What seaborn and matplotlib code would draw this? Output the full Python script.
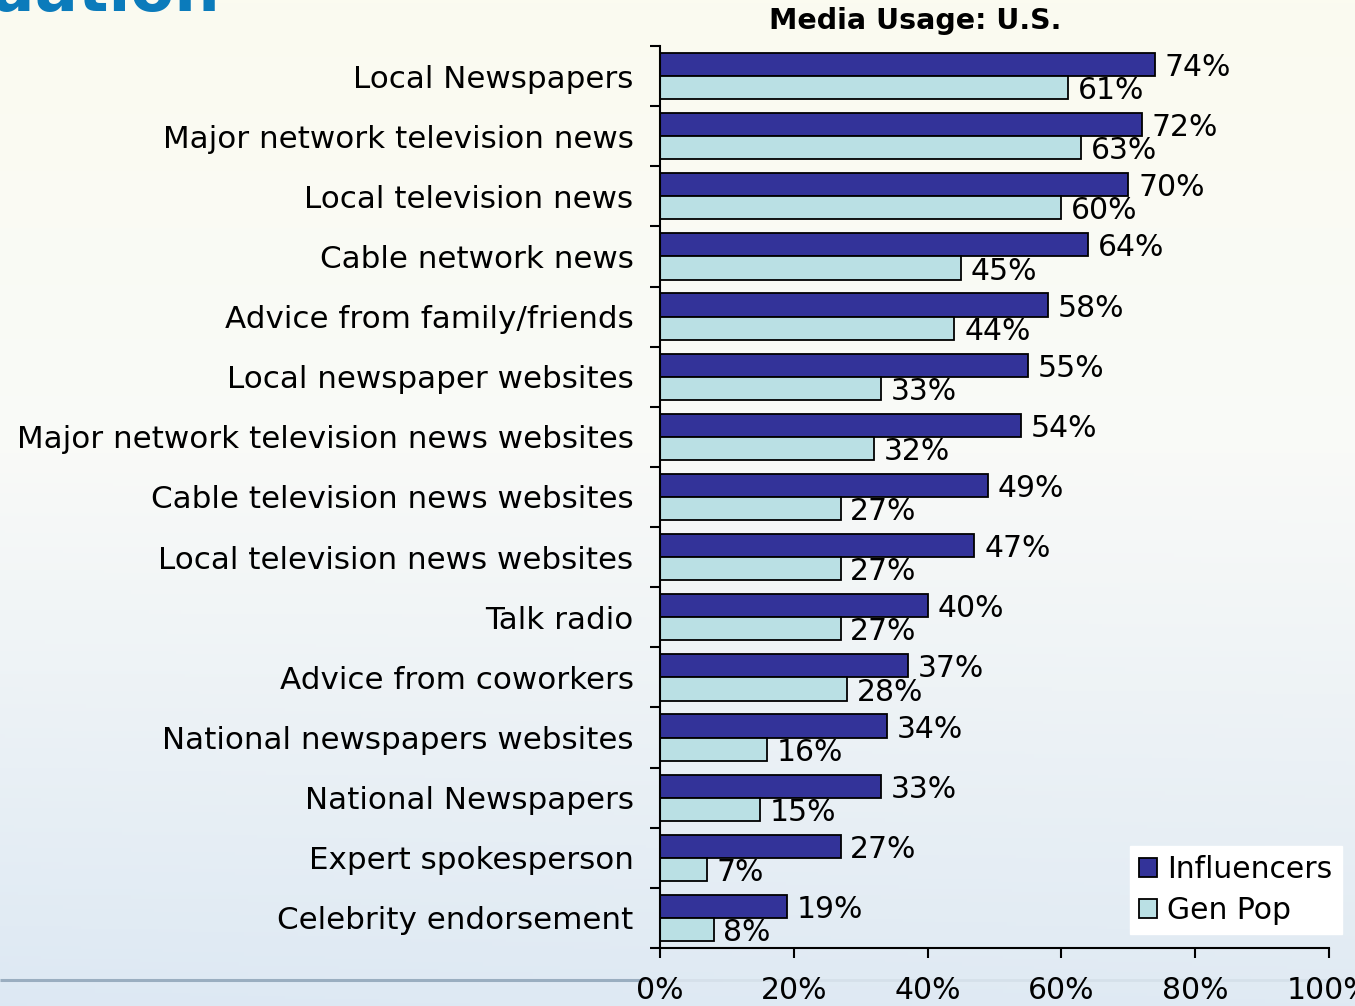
import numpy as np
import pandas as pd
import matplotlib
matplotlib.use("Agg")
import matplotlib.pyplot as plt
from matplotlib.ticker import FixedLocator
import seaborn as sns

# ---- data -------------------------------------------------------------
categories = [
    "Local Newspapers",
    "Major network television news",
    "Local television news",
    "Cable network news",
    "Advice from family/friends",
    "Local newspaper websites",
    "Major network television news websites",
    "Cable television news websites",
    "Local television news websites",
    "Talk radio",
    "Advice from coworkers",
    "National newspapers websites",
    "National Newspapers",
    "Expert spokesperson",
    "Celebrity endorsement",
]
influencers = [74, 72, 70, 64, 58, 55, 54, 49, 47, 40, 37, 34, 33, 27, 19]
gen_pop = [61, 63, 60, 45, 44, 33, 32, 27, 27, 27, 28, 16, 15, 7, 8]
groups = ["Influencers", "Gen Pop"]
x_ticks = [0, 20, 40, 60, 80, 100]
x_tick_labels = ["0%", "20%", "40%", "60%", "80%", "100%"]
chart_title = "Media Usage: U.S."
slide_heading = "Evaluation"

df = pd.DataFrame({
    "Medium": categories * 2,
    "Share": influencers + gen_pop,
    "Group": [groups[0]] * len(categories) + [groups[1]] * len(categories),
})

# ---- style ------------------------------------------------------------
sns.set_theme(style="white")
plt.rcParams["font.family"] = ["DejaVu Sans"]
plt.rcParams["text.color"] = "black"
plt.rcParams["xtick.labelcolor"] = "black"
plt.rcParams["ytick.labelcolor"] = "black"

W, H = 1355, 1006
fig = plt.figure(figsize=(W / 100, H / 100), dpi=100)

# slide background: cream at the top fading to a pale blue at the bottom
bg = fig.add_axes([0, 0, 1, 1], zorder=-10)
ny, nx = 300, 300
yy, xx = np.mgrid[0:1:ny * 1j, 0:1:nx * 1j]
top = np.array([251, 251, 240]) / 255
mid = np.array([249, 250, 248]) / 255
bot = np.array([224, 234, 243]) / 255
t = np.clip((yy - 0.45) / 0.55, 0, 1)
img = np.where(yy[..., None] < 0.45,
               top + (mid - top) * (yy[..., None] / 0.45),
               mid + (bot - mid) * t[..., None])
# slightly bluer towards the lower left
img = img - (1 - xx[..., None]) * t[..., None] * np.array([0.012, 0.006, 0.0])
bg.imshow(np.clip(img, 0, 1), aspect="auto", extent=[0, 1, 1, 0])
bg.set_xlim(0, 1)
bg.set_ylim(1, 0)
bg.axis("off")

# footer rule of the slide
bg.plot([0, 645 / W], [980 / H, 980 / H], color="#9AAEC0", lw=2.2,
        solid_capstyle="butt")
bg.plot([645 / W, 1], [980 / H, 980 / H], color="#D5E0EA", lw=2.0,
        solid_capstyle="butt")

# slide heading (runs off the top edge)
fig.text(220 / W, 1 - 11 / H, slide_heading, ha="right", va="baseline",
         fontsize=46, fontweight="bold", color="#0B7BBB")

# ---- chart ------------------------------------------------------------
ax = fig.add_axes([660 / W, 1 - 948 / H, 669 / W, 902 / H])
ax.patch.set_alpha(0)

sns.barplot(data=df, y="Medium", x="Share", hue="Group", orient="h",
            hue_order=groups, order=categories,
            palette=["#333399", "#BAE0E4"], saturation=1,
            width=0.77, edgecolor="black", linewidth=1.3, ax=ax)

for cont, vals in zip(ax.containers, [influencers, gen_pop]):
    texts = ax.bar_label(cont, labels=[f"{v}%" for v in vals], padding=7,
                         fontsize=21.5, color="black")
    for txt in texts:
        txt.xyann = (7, -2.2)

ax.set_xlim(0, 100)
ax.set_ylim(len(categories) - 0.5, -0.5)
ax.set_xlabel("")
ax.set_ylabel("")

ax.xaxis.set_major_locator(FixedLocator(x_ticks))
ax.set_xticklabels(x_tick_labels, fontsize=21.5)
ax.tick_params(axis="x", direction="out", length=7, width=1.5,
               color="black", pad=13, bottom=True)

ax.set_yticks(range(len(categories)))
ax.set_yticklabels(categories, fontsize=22.3)
ax.tick_params(axis="y", which="major", length=0, pad=19, left=True)
ax.yaxis.set_minor_locator(FixedLocator(np.arange(-0.5, len(categories), 1.0)))
ax.tick_params(axis="y", which="minor", direction="out", length=7,
               width=1.5, color="black", left=True)

for side in ("top", "right"):
    ax.spines[side].set_visible(False)
for side in ("left", "bottom"):
    ax.spines[side].set_color("black")
    ax.spines[side].set_linewidth(1.5)

fig.text(915 / W, 1 - 21 / H, chart_title, ha="center", va="center",
         fontsize=20.5, fontweight="bold", color="black")

handles, labels = ax.get_legend_handles_labels()
ax.legend(handles, labels, loc="upper left",
          bbox_to_anchor=(1130 / W, 1 - 846 / H), bbox_transform=fig.transFigure,
          borderaxespad=0, frameon=True, fancybox=False, framealpha=1,
          facecolor="white", edgecolor="white", fontsize=21.5,
          handlelength=0.6, handleheight=0.6, handletextpad=0.35,
          labelspacing=0.4, borderpad=0.3)

fig.savefig("out.png", dpi=100)
